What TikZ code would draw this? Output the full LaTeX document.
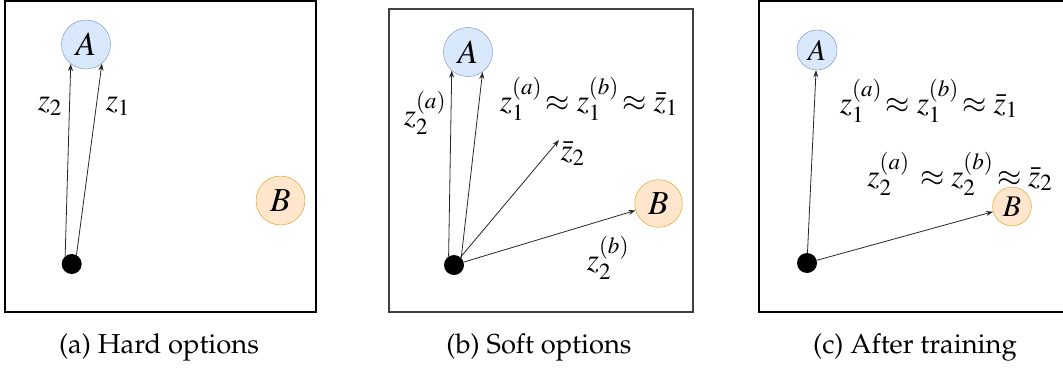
\documentclass[tikz,border=0pt]{standalone}
\usepackage[T1]{fontenc}
\usepackage{mathptmx}
\usepackage{amsmath,amssymb}
\usepackage{tikz}
\usetikzlibrary{arrows.meta,positioning,calc}
\definecolor{optBlueFill}{RGB}{218,232,252}
\definecolor{optBlueLine}{RGB}{108,142,191}
\definecolor{optOrangeFill}{RGB}{255,230,204}
\definecolor{optOrangeLine}{RGB}{215,155,0}

\begin{document}
\begin{tikzpicture}[x=1pt,y=-1pt,
    optA/.style={circle, draw=optBlueLine, fill=optBlueFill, inner sep=0pt, scale=1.4, transform shape, minimum size=35pt, font=\fontsize{24}{24}\selectfont},
    optB/.style={circle, draw=optOrangeLine, fill=optOrangeFill, inner sep=0pt, scale=1.4, transform shape, minimum size=35pt, font=\fontsize{24}{24}\selectfont},
    start/.style={circle, fill=black, inner sep=0pt, minimum size=20pt},
    vec/.style={draw=black!85, line width=0.8pt, -{Stealth[length=7pt,width=5pt]}},
    lbl/.style={inner sep=1pt, scale=1.3, transform shape, font=\fontsize{24}{24}\selectfont},
    subcap/.style={font=\fontfamily{ppl}\fontsize{24}{24}\selectfont, scale=1.14, transform shape}]
  \useasboundingbox (0,0) rectangle (1063,367);
  \begin{scope}
    \clip (0,0) rectangle (1063,367);
    % --- frames ---
    \draw[line width=1.2pt] (5,1) rectangle (316,312);
    \draw[line width=1.2pt, black!75] (389,9) rectangle (693,312);
    \draw[line width=1.2pt] (759,1) rectangle (1070,312);
  \end{scope}
  % --- (a) hard options ---
  \node[optA] (Aa) at (86,44.5) {$A$};
  \node[optB] (Ba) at (280.5,200.5) {$B$};
  \node[start] (sa) at (71.7,264) {};
  \draw[vec] (sa.130) -- (Aa.232);
  \draw[vec] (sa.62) -- (Aa.310);
  \node[lbl] (za2) at (50,106) {$z_2$};
  \node[lbl] (za1) at (118,106) {$z_1$};
  \node[subcap] (capa) at (159,347) {(a) Hard options};
  % --- (b) soft options ---
  \node[optA] (Ab) at (468,52) {$A$};
  \node[optB, minimum size=34pt] (Bb) at (658.5,203.5) {$B$};
  \node[start] (sb) at (454,265) {};
  \node[lbl, anchor=north west] (zbar) at (559,140) {$\bar z_2$};
  \draw[vec] (sb.122) -- (Ab.229);
  \draw[vec] (sb.45) -- (Ab.306);
  \draw[vec] (sb) -- (zbar.north west);
  \draw[vec] (sb) -- (Bb);
  \node[lbl] (zb2a) at (425,113) {$z_2^{(a)}$};
  \node[lbl] (zb1) at (589,99) {$z_1^{(a)}\!\approx z_1^{(b)}\!\approx \bar z_1$};
  \node[lbl] (zb2b) at (608,258) {$z_2^{(b)}$};
  \node[subcap] (capb) at (539,347) {(b) Soft options};
  % --- (c) after training ---
  \node[optA, scale=1.25/1.4, minimum size=32pt] (Ac) at (817,50) {$A$};
  \node[optB, scale=1.25/1.4, minimum size=31pt] (Bc) at (1012,206.5) {$B$};
  \node[start] (sc) at (807,263) {};
  \draw[vec] (sc) -- (Ac);
  \draw[vec] (sc) -- (Bc);
  \node[lbl] (zc1) at (929,101) {$z_1^{(a)}\!\approx z_1^{(b)}\!\approx \bar z_1$};
  \node[lbl] (zc2) at (960,174) {$z_2^{(a)}\,\approx z_2^{(b)}\!\approx \bar z_2$};
  \node[subcap] (capc) at (915,347) {(c) After training};
\end{tikzpicture}
\end{document}
